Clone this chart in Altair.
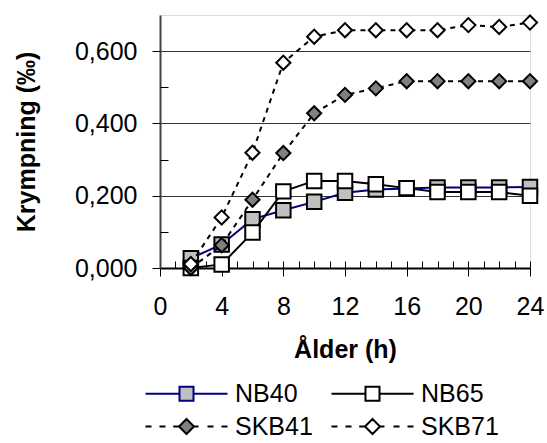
import altair as alt
import pandas as pd

# ---------------- data ----------------
hours = [2, 4, 6, 8, 10, 12, 14, 16, 18, 20, 22, 24]
series_names = ["NB40", "NB65", "SKB41", "SKB71"]
nb40 = [0.027, 0.065, 0.135, 0.160, 0.183, 0.208, 0.217, 0.220, 0.223, 0.223, 0.223, 0.224]
nb65 = [0.000, 0.010, 0.098, 0.212, 0.241, 0.241, 0.232, 0.221, 0.210, 0.210, 0.210, 0.200]
skb41 = [0.000, 0.063, 0.189, 0.318, 0.428, 0.479, 0.497, 0.517, 0.517, 0.517, 0.517, 0.517]
skb71 = [0.011, 0.140, 0.319, 0.568, 0.640, 0.658, 0.658, 0.658, 0.658, 0.672, 0.667, 0.679]
series_values = [nb40, nb65, skb41, skb71]

x_major_ticks = [0, 4, 8, 12, 16, 20, 24]
x_minor_ticks = list(range(0, 25))
y_major_ticks = [0.0, 0.2, 0.4, 0.6]
y_minor_ticks = [0.1, 0.3, 0.5]

FONT = "Liberation Sans"
FS = 25

# styles
line_colors = ["#000080", "#000000", "#000000", "#000000"]
line_dashes = [None, None, [5, 5], [5, 5]]
point_shapes = ["square", "square", "diamond", "diamond"]
point_fills = ["#c0c0c0", "#ffffff", "#808080", "#ffffff"]
point_sizes = [210, 210, 200, 200]

# legend symbols (custom paths, unit = sqrt(size)/2 px)
sq_path = "M-5.86,0H-1M-1,-1H1V1H-1ZM1,0H5.86"
dm_path = ("M-5.86,0H-5M-3.86,0H-3M-1.9,0H-1.07M0,-1.07L1.07,0L0,1.07L-1.07,0Z"
           "M1.07,0H1.71M3,0H3.86M5,0H5.86")
legend_paths = [sq_path, sq_path, dm_path, dm_path]

frames = []
for name, vals in zip(series_names, series_values):
    frames.append(pd.DataFrame({"series": name, "hour": hours, "value": vals}))
df = pd.concat(frames, ignore_index=True)

xscale = alt.Scale(domain=[0, 24], nice=False, zero=False)
yscale = alt.Scale(domain=[0, 0.7], nice=False)

x_axis = alt.Axis(values=x_major_ticks, tickSize=8, tickColor="black", tickWidth=1,
                  domainColor="black", domainWidth=2, grid=False,
                  labelFont=FONT, labelFontSize=FS, labelColor="black", labelPadding=18,
                  labelFlush=False,
                  title="Ålder (h)", titleFont=FONT, titleFontSize=FS, titleFontWeight="bold",
                  titleColor="black", titlePadding=18)
y_axis = alt.Axis(values=y_major_ticks, tickSize=8, tickColor="black", tickWidth=1,
                  domainColor="#404040", domainWidth=2,
                  grid=True, gridColor="#333333", gridWidth=1,
                  labelFont=FONT, labelFontSize=FS, labelColor="black", labelPadding=15,
                  labelExpr="replace(format(datum.value, '.3f'), '.', ',')",
                  title="Krympning (‰)", titleFont=FONT, titleFontSize=FS,
                  titleFontWeight="bold", titleColor="black", titlePadding=35)

X = alt.X("hour:Q", scale=xscale, axis=x_axis)
Y = alt.Y("value:Q", scale=yscale, axis=y_axis)

layers = []
for i, name in enumerate(series_names):
    sub = df[df.series == name]
    lk = dict(color=line_colors[i], strokeWidth=2)
    if line_dashes[i]:
        lk["strokeDash"] = line_dashes[i]
    layers.append(alt.Chart(sub).mark_line(**lk).encode(x=X, y=Y))
    layers.append(alt.Chart(sub).mark_point(shape=point_shapes[i], filled=True,
                                            fill=point_fills[i], stroke="black",
                                            strokeWidth=2, size=point_sizes[i],
                                            opacity=1).encode(x=X, y=Y))

legend = alt.Legend(title=None, orient="none", columns=2, direction="horizontal",
                    legendX=-20, legendY=366, padding=0,
                    labelFont=FONT, labelFontSize=FS, labelColor="black",
                    symbolSize=196, symbolStrokeWidth=2, symbolOffset=34, labelOffset=36,
                    rowPadding=7, columnPadding=13)
legend_layer = alt.Chart(df).transform_filter("datum.hour < 0").mark_point(
    filled=True, opacity=1, strokeWidth=2).encode(
    x=X, y=Y,
    shape=alt.Shape("series:N", scale=alt.Scale(domain=series_names, range=legend_paths),
                    legend=legend),
    fill=alt.Fill("series:N", scale=alt.Scale(domain=series_names, range=point_fills)),
    stroke=alt.Stroke("series:N", scale=alt.Scale(domain=series_names, range=line_colors)),
)
main = alt.layer(*layers, legend_layer)

minor = alt.Chart(df).mark_point(opacity=0).encode(
    x=alt.X("hour:Q", scale=xscale,
            axis=alt.Axis(orient="bottom", values=x_minor_ticks, tickSize=7, offset=-7,
                          tickColor="black", tickWidth=1, labels=False, domain=False,
                          grid=False, title=None)),
    y=alt.Y("value:Q", scale=yscale,
            axis=alt.Axis(orient="left", values=y_minor_ticks, tickSize=8, offset=-8,
                          tickColor="black", tickWidth=1, labels=False, domain=False,
                          grid=False, title=None)),
)

chart = alt.layer(main, minor).resolve_scale(x="independent", y="independent").properties(
    width=370, height=253,
    autosize=alt.AutoSizeParams(type="none"),
    padding={"left": 160, "top": 15, "right": 17, "bottom": 175},
).configure_view(stroke="#808080", strokeWidth=2).configure(background="white")

chart.save("out.html", embed_options={"renderer": "svg", "actions": False})
